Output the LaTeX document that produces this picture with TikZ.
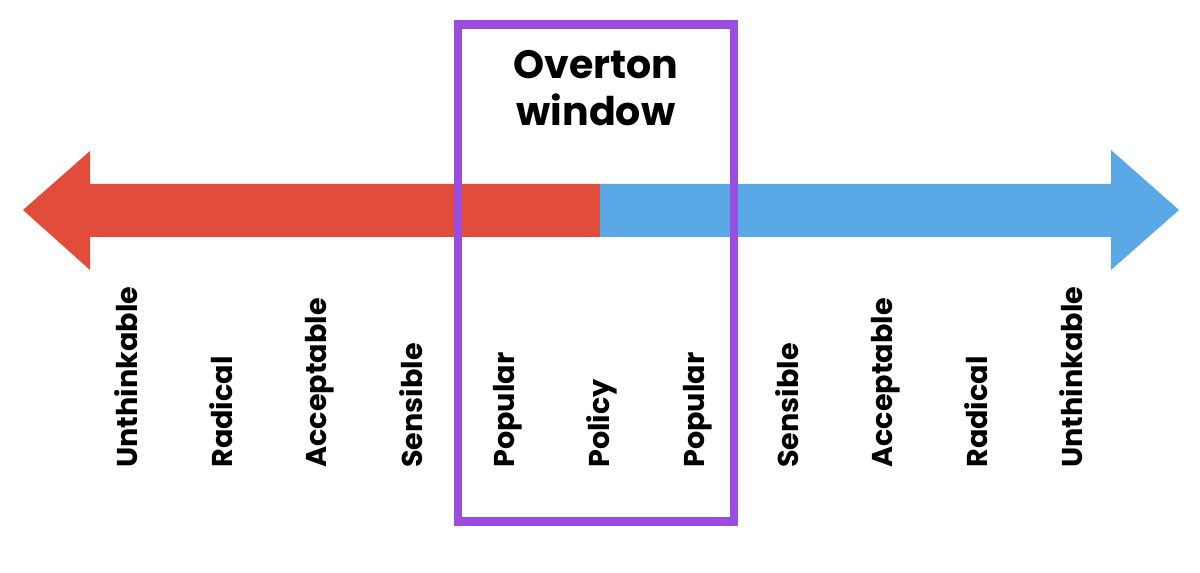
\documentclass[tikz,border=0pt]{standalone}
\usepackage{fontspec}
\setmainfont{Poppins}
\usepackage{tikz}
\usepackage{xcolor}
\usetikzlibrary{positioning,calc}

\definecolor{leftred}{HTML}{E24C3B}
\definecolor{rightblue}{HTML}{5AA8E6}
\definecolor{windowpurple}{HTML}{9B4DE0}

\tikzset{
    label/.style={rotate=90, anchor=base west, inner sep=0pt, font=\fontsize{16.3}{20}\selectfont\bfseries},
    title/.style={align=center, inner sep=0pt, font=\fontsize{22.5}{26.5}\selectfont\bfseries}
}

\begin{document}
\begin{tikzpicture}[x=0.02cm, y=-0.02cm]
    \useasboundingbox (0,0) rectangle (1200,573);

    % Left half of the spectrum
    \fill[leftred] (600,184) -- (90,184) -- (90,151) -- (23,210) -- (90,270) -- (90,237) -- (600,237) -- cycle;

    % Right half of the spectrum
    \fill[rightblue] (600,184) -- (1111,184) -- (1111,150) -- (1179,210) -- (1111,270) -- (1111,237) -- (600,237) -- cycle;

    % Window
    \node[draw=windowpurple, line width=8.5pt*0.02/0.0352778, minimum width=276*0.02cm, minimum height=497*0.02cm, inner sep=0pt] (window) at (596,273) {};
    \node[title] (wtitle) at (596,88) {Overton\\window};

    % Positions along the spectrum
    \node[label] (l1) at (137,468) {Unthinkable};
    \node[label] (l2) at (232,468) {Radical};
    \node[label] (l3) at (326,468) {Acceptable};
    \node[label] (l4) at (422,468) {Sensible};
    \node[label] (l5) at (514,468) {Popular};
    \node[label] (l6) at (609,468) {Policy};
    \node[label] (l7) at (704,468) {Popular};
    \node[label] (l8) at (798,468) {Sensible};
    \node[label] (l9) at (892,468) {Acceptable};
    \node[label] (l10) at (987,468) {Radical};
    \node[label] (l11) at (1082,468) {Unthinkable};
\end{tikzpicture}
\end{document}
